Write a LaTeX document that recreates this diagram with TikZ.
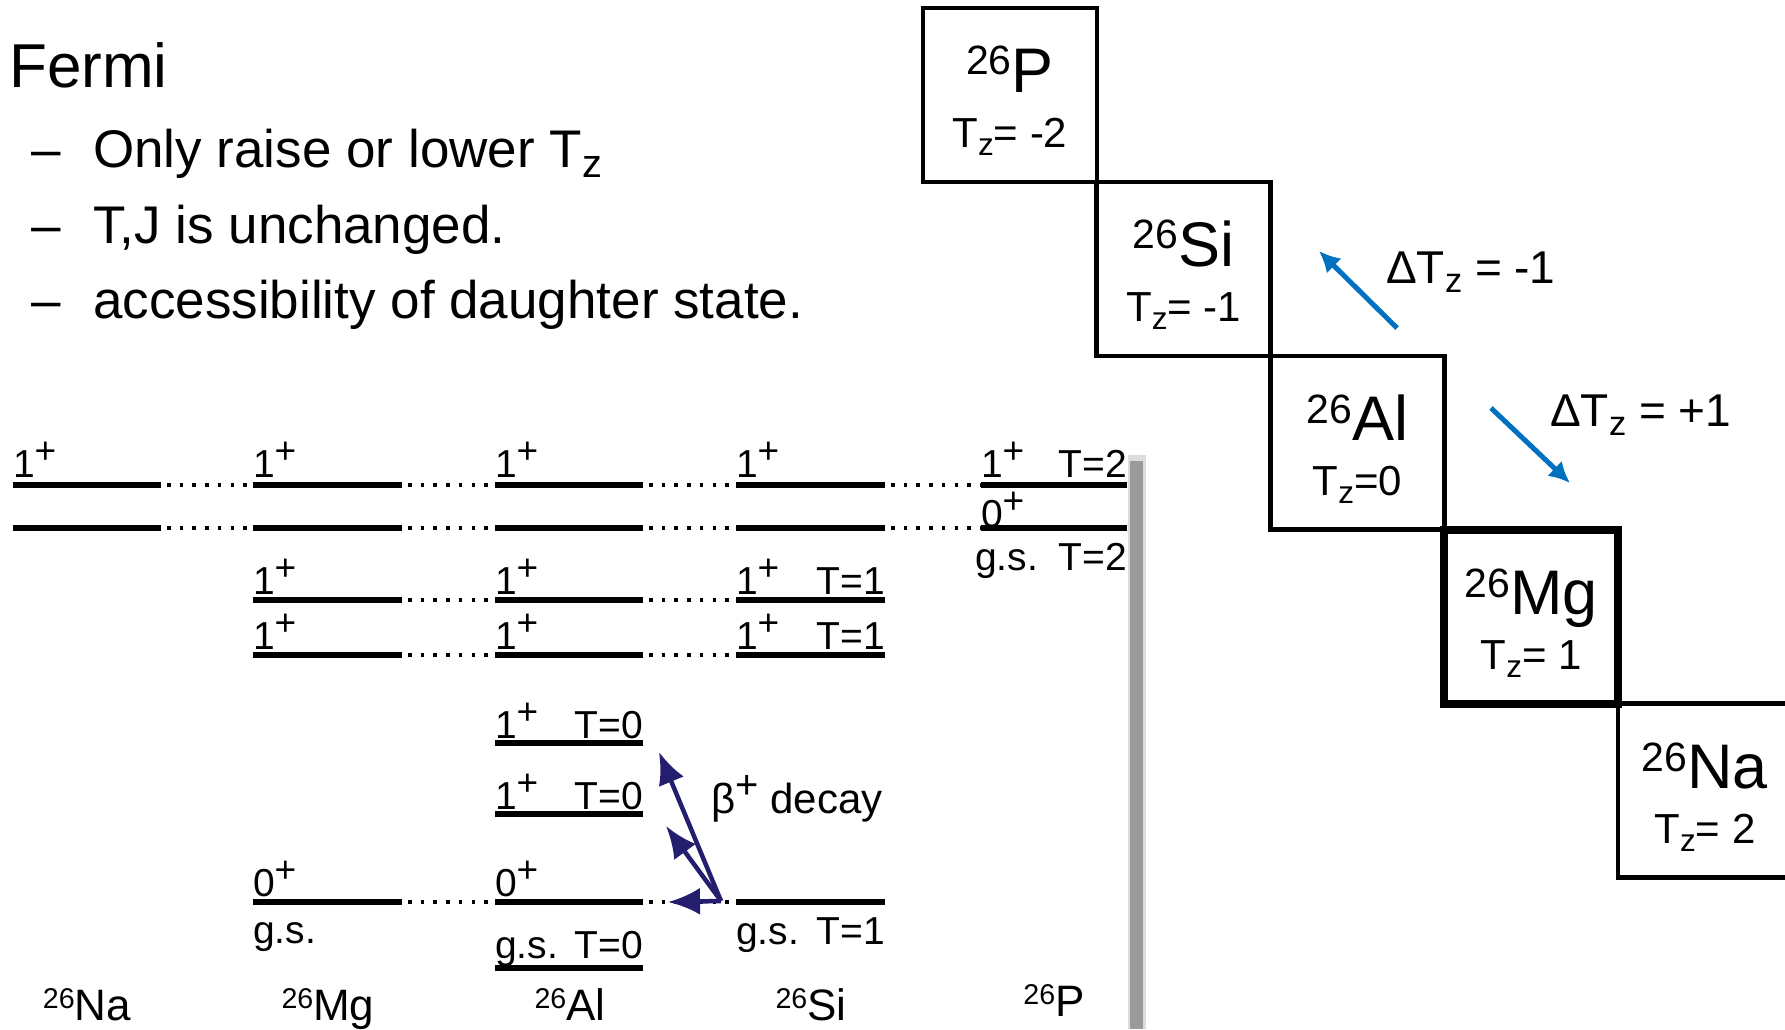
\documentclass[tikz,border=0pt]{standalone}
\usepackage{fontspec}
\setmainfont{Liberation Sans}
\usetikzlibrary{arrows.meta}
\newcommand\fsz[1]{\fontsize{#1}{#1}\selectfont}
\newcommand\psup[1]{\raisebox{0.34em}{\scalebox{0.95}{#1}}}
\newcommand\isup[1]{\raisebox{0.27em}{\scalebox{0.65}{#1}}}
\newcommand\zsub[1]{\raisebox{-0.2em}{\scalebox{0.75}{#1}}}
\definecolor{navyarr}{RGB}{36,30,110}
\definecolor{bluearr}{RGB}{0,112,192}
\definecolor{shadowgray}{RGB}{154,154,154}
\begin{document}
\begin{tikzpicture}[x=1pt,y=-1pt,
  lvl/.style={line width=6pt},
  dots/.style={line width=3.6pt, dash pattern=on 3.6pt off 9.1pt, dash phase=-6pt},
  lab/.style={inner sep=0pt, outer sep=0pt, anchor=base west, font=\fsz{39}},
  isolab/.style={inner sep=0pt, anchor=base, font=\fsz{44}},
  bx/.style={draw, line width=4.5pt, minimum width=173.75pt, minimum height=173.9pt, inner sep=0pt},
  bxthick/.style={bx, line width=8pt},
  bname/.style={inner sep=0pt, anchor=base, font=\fsz{63}},
  btz/.style={inner sep=0pt, anchor=base, font=\fsz{42}},
  decay/.style={line width=4.5pt, draw=navyarr, -{Latex[length=32pt,width=27pt]}},
  tzarr/.style={line width=5pt, draw=bluearr, -{Latex[length=21pt,width=21pt]}},
  txt/.style={inner sep=0pt, anchor=base west}
]
\useasboundingbox (0,0) rectangle (1785,1029);
\clip (0,0) rectangle (1785,1029);

% ---------- left text ----------
\node[txt, font=\fsz{62}] (fermi) at (9,87) {Fermi};
\node[txt, font=\fsz{53}] (d1) at (31,167) {–};
\node[txt, font=\fsz{53}] (b1) at (93,167) {Only raise or lower T\zsub{z}};
\node[txt, font=\fsz{53}] (d2) at (31,243) {–};
\node[txt, font=\fsz{53}] (b2) at (93,243) {T,J is unchanged.};
\node[txt, font=\fsz{53}] (d3) at (31,318) {–};
\node[txt, font=\fsz{53}] (b3) at (93,318) {accessibility of daughter state.};

% ---------- shadow ----------
\fill[shadowgray!35] (1128,455) rectangle (1146,1029);
\fill[shadowgray] (1130,461) rectangle (1143,1029);

% ---------- level coordinates ----------
\foreach \r/\yy in {A/485,B/528}{
  \coordinate (Na\r l) at (13,\yy);  \coordinate (Na\r r) at (161,\yy);
  \coordinate (P\r l) at (981,\yy);  \coordinate (P\r r) at (1127,\yy);
}
\foreach \r/\yy in {A/485,B/528,C/600,D/655,G/902}{
  \coordinate (Mg\r l) at (253,\yy); \coordinate (Mg\r r) at (402,\yy);
  \coordinate (Si\r l) at (736,\yy); \coordinate (Si\r r) at (885,\yy);
}
\foreach \r/\yy in {A/485,B/528,C/600,D/655,E/743,F/814,G/902,H/968}{
  \coordinate (Al\r l) at (495,\yy); \coordinate (Al\r r) at (643,\yy);
}
\foreach \n in {NaA,NaB,PA,PB,MgA,MgB,MgC,MgD,MgG,SiA,SiB,SiC,SiD,SiG,AlA,AlB,AlC,AlD,AlE,AlF,AlG,AlH}{
  \draw[lvl] (\n l) -- (\n r);
}
\foreach \r in {A,B}{
  \draw[dots] (Na\r r) -- (Mg\r l);
  \draw[dots] (Mg\r r) -- (Al\r l);
  \draw[dots] (Al\r r) -- (Si\r l);
  \draw[dots] (Si\r r) -- (P\r l);
}
\foreach \r in {C,D,G}{
  \draw[dots] (Mg\r r) -- (Al\r l);
  \draw[dots] (Al\r r) -- (Si\r l);
}

% ---------- level labels ----------
\node[lab] (lNaA) at (13,477) {1\psup{+}};
\node[lab] (lMgA) at (253,477) {1\psup{+}};
\node[lab] (lAlA) at (495,477) {1\psup{+}};
\node[lab] (lSiA) at (736,477) {1\psup{+}};
\node[lab] (lPA) at (981,477) {\makebox[146pt][l]{1\psup{+}\hfill T=2}};
\node[lab] (lPB) at (981,527) {0\psup{+}};
\node[lab] (lPg) at (975,570) {\makebox[152pt][l]{g.s.\hfill T=2}};

\node[lab] (lMgC) at (253,594) {1\psup{+}};
\node[lab] (lAlC) at (495,594) {1\psup{+}};
\node[lab] (lSiC) at (736,594) {\makebox[149pt][l]{1\psup{+}\hfill T=1}};
\node[lab] (lMgD) at (253,649) {1\psup{+}};
\node[lab] (lAlD) at (495,649) {1\psup{+}};
\node[lab] (lSiD) at (736,649) {\makebox[149pt][l]{1\psup{+}\hfill T=1}};

\node[lab] (lAlE) at (495,738) {\makebox[148pt][l]{1\psup{+}\hfill T=0}};
\node[lab] (lAlF) at (495,809) {\makebox[148pt][l]{1\psup{+}\hfill T=0}};

\node[lab] (lMgG) at (253,896) {0\psup{+}};
\node[lab] (lAlG) at (495,896) {0\psup{+}};
\node[lab] (lMgg) at (253,943) {g.s.};
\node[lab] (lSig) at (736,944) {\makebox[149pt][l]{g.s.\hfill T=1}};
\node[lab] (lAlH) at (495,958) {\makebox[148pt][l]{g.s.\hfill T=0}};

\node[isolab] (iNa) at (87,1020) {\isup{26}Na};
\node[isolab] (iMg) at (328,1020) {\isup{26}Mg};
\node[isolab] (iAl) at (570,1020) {\isup{26}Al};
\node[isolab] (iSi) at (811,1020) {\isup{26}Si};
\node[isolab] (iP) at (1054,1016) {\isup{26}P};

% ---------- beta decay arrows ----------
\coordinate (bo) at (721,901);
\coordinate (bt1) at (659,752);
\coordinate (bt2) at (666,826);
\coordinate (bt3) at (668,902);
\draw[decay] (bo) -- (bt1);
\draw[decay] (bo) -- (bt2);
\draw[decay] (bo) -- (bt3);
\node[txt, font=\fsz{42}] (bdecay) at (711,813) {β\psup{+} decay};

% ---------- isobar boxes ----------
\node[bx] (bP)  at (1009.9,94.95) {};
\node[bx] (bSi) at (1183.6,268.85) {};
\node[bx] (bAl) at (1357.4,442.75) {};
\node[bx] (bNa) at (1704.9,790.55) {};
\node[bxthick] (bMg) at (1531.1,616.65) {};

\node[bname] (nP)  at (1009.9,92)  {\isup{26}P};
\node[btz]   (tP)  at (1009.9,147) {T\zsub{z}= -2};
\node[bname] (nSi) at (1183.6,266) {\isup{26}Si};
\node[btz]   (tSi) at (1183.6,321) {T\zsub{z}= -1};
\node[bname] (nAl) at (1357.4,440) {\isup{26}Al};
\node[btz]   (tAl) at (1357.4,495) {T\zsub{z}=0};
\node[bname] (nMg) at (1531.1,614) {\isup{26}Mg};
\node[btz]   (tMg) at (1531.1,669) {T\zsub{z}= 1};
\node[bname] (nNa) at (1704.9,788) {\isup{26}Na};
\node[btz]   (tNa) at (1704.9,843) {T\zsub{z}= 2};

% ---------- Delta Tz arrows ----------
\coordinate (m1s) at (1397,328);
\coordinate (m1e) at (1319,251);
\coordinate (p1s) at (1491,408);
\coordinate (p1e) at (1570,483);
\draw[tzarr] (m1s) -- (m1e);
\draw[tzarr] (p1s) -- (p1e);
\node[txt, font=\fsz{46}] (dTm) at (1386,283) {ΔT\zsub{z} = -1};
\node[txt, font=\fsz{46}] (dTp) at (1550,426) {ΔT\zsub{z} = +1};
\end{tikzpicture}
\end{document}
